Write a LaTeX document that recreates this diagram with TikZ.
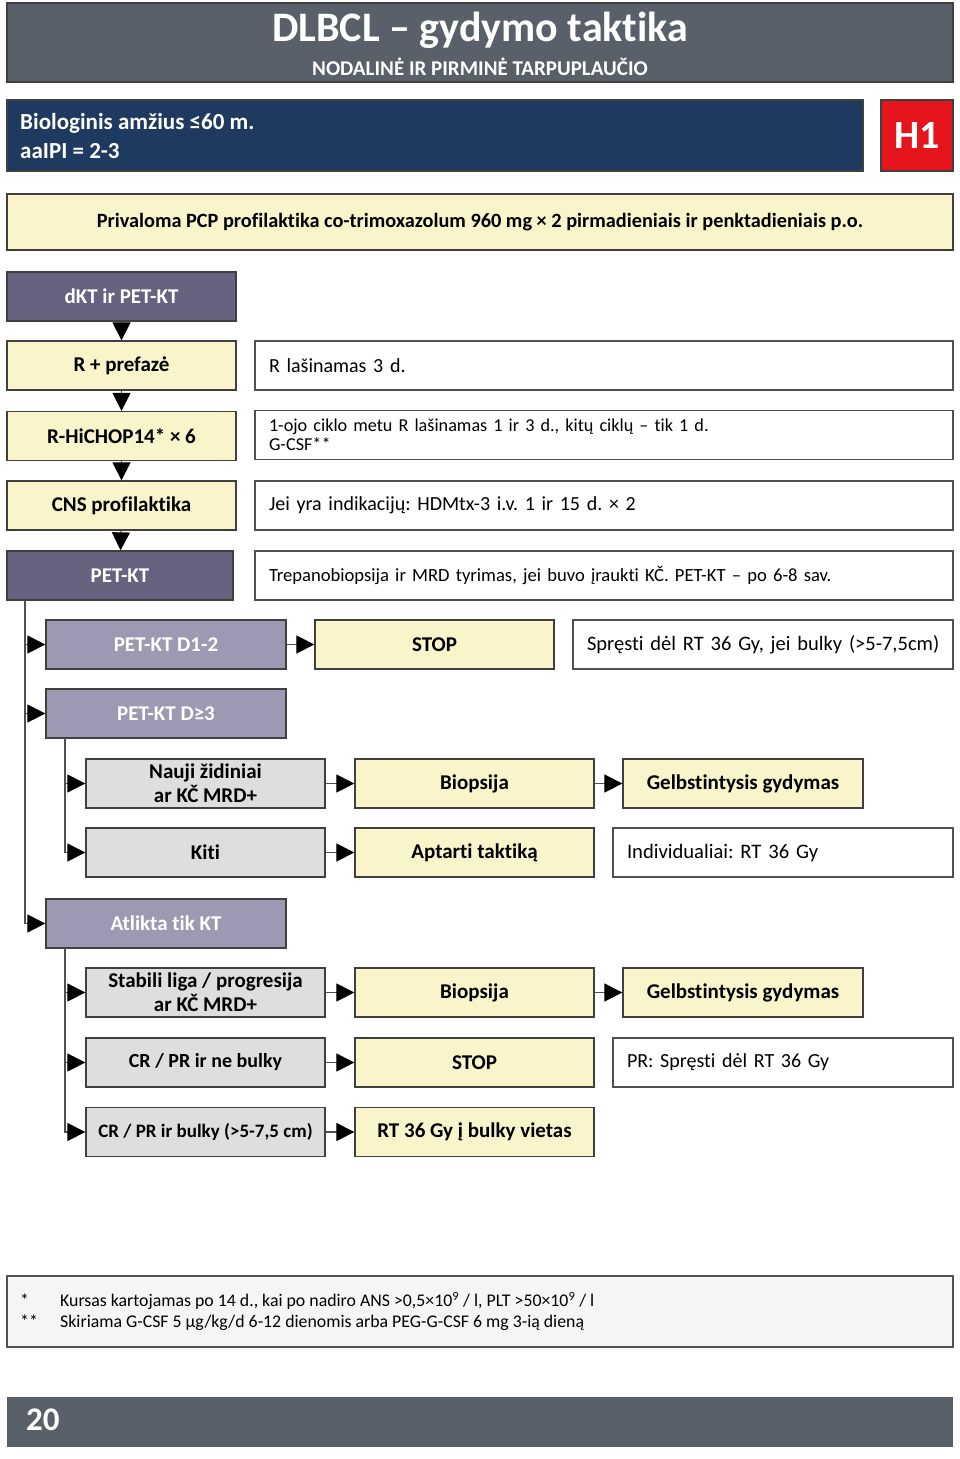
\documentclass[tikz,border=0pt]{standalone}
\usepackage{fontspec}
\setmainfont{Carlito}[Ligatures=NoCommon]
\usetikzlibrary{arrows.meta}
\frenchspacing

\definecolor{headgray}{RGB}{90,96,105}
\definecolor{navy}{RGB}{31,58,96}
\definecolor{codered}{RGB}{230,20,27}
\definecolor{cream}{RGB}{250,244,202}
\definecolor{purpledark}{RGB}{102,98,127}
\definecolor{purplelight}{RGB}{156,154,178}
\definecolor{casegray}{RGB}{222,222,222}
\definecolor{notegray}{RGB}{245,245,245}
\definecolor{boxline}{RGB}{64,64,64}
\definecolor{linegray}{RGB}{80,80,80}

\begin{document}
\begin{tikzpicture}[x=1pt, y=-1pt,
    base/.style={draw=boxline, line width=1.3pt, inner sep=0pt, minimum height=49pt,
      align=center, font=\fontsize{21}{24}\selectfont\bfseries},
    headbox/.style={draw=boxline, line width=1.3pt, inner sep=0pt},
    mainbox/.style={base, fill=purpledark, text=white, minimum width=229pt},
    stepbox/.style={base, fill=cream, minimum width=229pt},
    lvlbox/.style={base, fill=purplelight, text=white, minimum width=240pt},
    casebox/.style={base, fill=casegray, minimum width=239pt},
    actbox/.style={base, fill=cream, minimum width=239pt},
    notebox/.style={base, fill=white, draw=linegray, inner xsep=14pt, align=left,
      text width=#1, font=\fontsize{20}{20}\selectfont},
    arr/.style={draw=linegray, line width=1.2pt, -{Triangle[length=18pt, width=18pt, color=black]}}]

  \useasboundingbox (0,0) rectangle (960,1459);

  % header
  \node[headbox, fill=headgray, minimum width=946pt, minimum height=79pt] (head) at (480,42.5) {};
  \node[text=white, font=\fontsize{42}{44}\selectfont\bfseries] (ttl) at (480,30) {DLBCL -- gydymo taktika};
  \node[text=white, font=\fontsize{21}{23}\selectfont\bfseries] (subttl) at (480,67) {NODALINĖ IR PIRMINĖ TARPUPLAUČIO};

  \node[headbox, fill=navy, minimum width=856pt, minimum height=71pt] (age) at (435,135.5) {};
  \node[text=white, anchor=west, inner sep=0pt, align=left, font=\fontsize{23}{29}\selectfont\bfseries] (agetxt) at (20,136.5)
    {Biologinis amžius ≤60 m.\\ aaIPI = 2-3};
  \node[headbox, fill=codered, text=white, minimum width=72pt, minimum height=71pt,
    font=\fontsize{40}{44}\selectfont\bfseries] (hcode) at (917,135.5) {H1};

  \node[headbox, fill=cream, minimum width=946pt, minimum height=56pt,
    font=\fontsize{20.3}{22}\selectfont\bfseries] (pcp) at (480,222)
    {Privaloma PCP profilaktika co-trimoxazolum 960 mg × 2 pirmadieniais ir penktadieniais p.o.};

  % main column
  \node[mainbox] (dkt) at (121.5,296.5) {dKT ir PET-KT};
  \node[stepbox] (prefaze) at (121.5,365.5) {R + prefazė};
  \node[stepbox] (hichop) at (121.5,436) {R-HiCHOP14* × 6};
  \node[stepbox] (cns) at (121.5,505.5) {CNS profilaktika};
  \node[mainbox, minimum width=226pt] (petkt) at (120,575.5) {PET-KT};

  \node[notebox=670pt] (n1) at (604,365.5) {R lašinamas 3 d.};
  \node[notebox=670pt, font=\fontsize{18.2}{19}\selectfont] (n2) at (604,435)
    {1-ojo ciklo metu R lašinamas 1 ir 3 d., kitų ciklų -- tik 1 d.\\G-CSF**};
  \node[notebox=670pt] (n3) at (604,505.5) {Jei yra indikacijų: HDMtx-3 i.v. 1 ir 15 d. × 2};
  \node[notebox=670pt, font=\fontsize{18.6}{19}\selectfont] (n4) at (604,575.5)
    {Trepanobiopsija ir MRD tyrimas, jei buvo įraukti KČ. PET-KT -- po 6-8 sav.};

  \draw[arr] (dkt) -- (prefaze);
  \draw[arr] (prefaze) -- (hichop);
  \draw[arr] (hichop) -- (cns);
  \draw[arr] (cns) -- (petkt);

  % PET-KT results
  \node[lvlbox] (d12) at (166,644.5) {PET-KT D1-2};
  \node[actbox] (stop1) at (434.5,644.5) {STOP};
  \node[notebox=360pt, inner xsep=10pt, font=\fontsize{20.5}{21}\selectfont] (sprest) at (763,644.5)
    {\hspace*{4pt}Spręsti dėl RT 36 Gy, jei bulky (>5-7,5cm)};

  \node[lvlbox] (dge3) at (166,713.5) {PET-KT D≥3};
  \node[casebox] (nauji) at (205.5,783.5) {Nauji židiniai\\ar KČ MRD+};
  \node[actbox] (biop1) at (474.5,783.5) {Biopsija};
  \node[actbox, minimum width=240pt] (gelb1) at (743,783.5) {Gelbstintysis gydymas};
  \node[casebox] (kiti) at (205.5,852.5) {Kiti};
  \node[actbox] (aptarti) at (474.5,852.5) {Aptarti taktiką};
  \node[notebox=312pt, font=\fontsize{20.6}{21}\selectfont] (indiv) at (783,852.5) {Individualiai: RT 36 Gy};

  \node[lvlbox] (atl) at (166,923.5) {Atlikta tik KT};
  \node[casebox] (stab) at (205.5,992.5) {Stabili liga / progresija\\ar KČ MRD+};
  \node[actbox] (biop2) at (474.5,992.5) {Biopsija};
  \node[actbox, minimum width=240pt] (gelb2) at (743,992.5) {Gelbstintysis gydymas};
  \node[casebox, font=\fontsize{20}{24}\selectfont\bfseries] (crne) at (205.5,1062.5) {CR / PR ir ne bulky};
  \node[actbox] (stop2) at (474.5,1062.5) {STOP};
  \node[notebox=312pt] (prsp) at (783,1062.5) {PR: Spręsti dėl RT 36 Gy};
  \node[casebox, font=\fontsize{19}{24}\selectfont\bfseries] (crb) at (205.5,1132) {CR / PR ir bulky (>5-7,5 cm)};
  \node[actbox] (rtb) at (474.5,1132) {RT 36 Gy į bulky vietas};

  \coordinate (trunk) at (25,600);
  \coordinate (sub1) at (65,738);
  \coordinate (sub2) at (65,948);

  \draw[arr] (trunk) |- (d12);
  \draw[arr] (trunk) |- (dge3);
  \draw[arr] (trunk) |- (atl);
  \draw[arr] (d12) -- (stop1);

  \draw[arr] (sub1) |- (nauji);
  \draw[arr] (sub1) |- (kiti);
  \draw[arr] (nauji) -- (biop1);
  \draw[arr] (biop1) -- (gelb1);
  \draw[arr] (kiti) -- (aptarti);

  \draw[arr] (sub2) |- (stab);
  \draw[arr] (sub2) |- (crne);
  \draw[arr] (sub2) |- (crb);
  \draw[arr] (stab) -- (biop2);
  \draw[arr] (biop2) -- (gelb2);
  \draw[arr] (crne) -- (stop2);
  \draw[arr] (crb) -- (rtb);

  % footnotes
  \node[headbox, draw=linegray, fill=notegray, minimum width=946pt, minimum height=71pt] (notes) at (480,1311.5) {};
  \node[anchor=west, inner sep=0pt, font=\fontsize{17.8}{21}\selectfont] (notestxt) at (20,1313)
    {\begin{tabular}{@{}p{40pt}@{}l@{}}
      * & Kursas kartojamas po 14 d., kai po nadiro ANS >0,5×10\textsuperscript{9} / l, PLT >50×10\textsuperscript{9} / l\\
      {*}{*} & Skiriama G-CSF 5 µg/kg/d 6-12 dienomis arba PEG-G-CSF 6 mg 3-ią dieną
    \end{tabular}};

  % page bar
  \node[headbox, draw=none, fill=headgray, minimum width=946pt, minimum height=50pt] (bar) at (480,1422) {};
  \node[anchor=west, text=white, inner sep=0pt, font=\fontsize{33}{35}\selectfont\bfseries] (pagenum) at (26,1420) {20};
\end{tikzpicture}
\end{document}
